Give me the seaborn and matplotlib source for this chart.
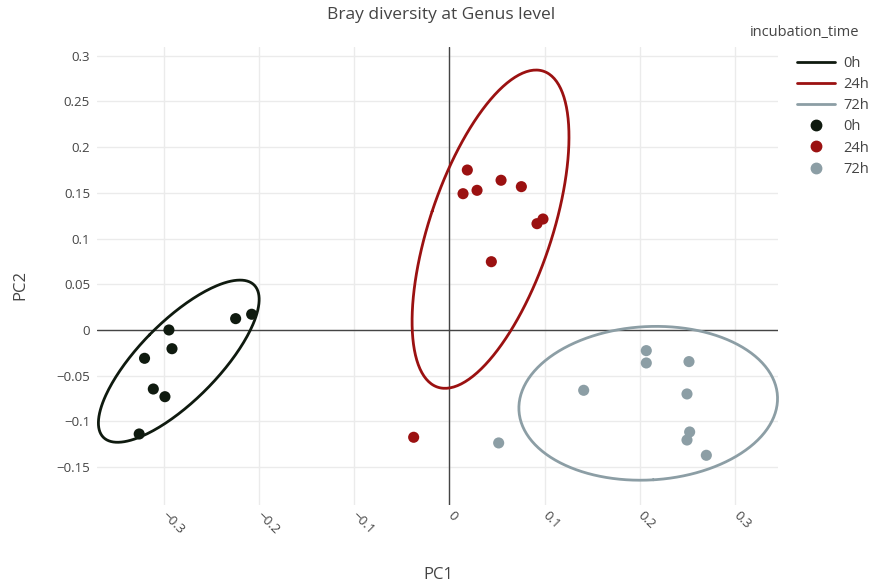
import numpy as np
import pandas as pd
import matplotlib
matplotlib.use("Agg")
import matplotlib.pyplot as plt
from matplotlib.lines import Line2D
import seaborn as sns

# ---- data ----
groups = ["0h", "24h", "72h"]
pc1_0h = [-0.2244, -0.2076, -0.2944, -0.2912, -0.3200, -0.3108, -0.2986, -0.3256]
pc2_0h = [0.0124, 0.0172, 0.0000, -0.0205, -0.0310, -0.0646, -0.0730, -0.1138]
pc1_24h = [0.0187, 0.0541, 0.0754, 0.0142, 0.0289, 0.0981, 0.0918, 0.0439, -0.0376]
pc2_24h = [0.1750, 0.1638, 0.1568, 0.1491, 0.1528, 0.1214, 0.1163, 0.0747, -0.1174]
pc1_72h = [0.2065, 0.2065, 0.2513, 0.1408, 0.2492, 0.2520, 0.2492, 0.2695, 0.0516]
pc2_72h = [-0.0226, -0.0361, -0.0346, -0.0660, -0.0700, -0.1116, -0.1204, -0.1371, -0.1236]
colors = ["#0f1a0f", "#9b1111", "#8c9ea5"]
x_ticks = [-0.3, -0.2, -0.1, 0, 0.1, 0.2, 0.3]
y_ticks = [-0.15, -0.1, -0.05, 0, 0.05, 0.1, 0.15, 0.2, 0.25, 0.3]

df = pd.DataFrame({
    "PC1": pc1_0h + pc1_24h + pc1_72h,
    "PC2": pc2_0h + pc2_24h + pc2_72h,
    "incubation_time": ["0h"] * len(pc1_0h) + ["24h"] * len(pc1_24h) + ["72h"] * len(pc1_72h),
})

# ellipse curves computed from each group's covariance
ell_rows = []
t = np.linspace(0, 2 * np.pi, 240)
for g in groups:
    sub = df[df.incubation_time == g][["PC1", "PC2"]].to_numpy()
    mu = sub.mean(axis=0)
    cov = np.cov(sub.T)
    vals, vecs = np.linalg.eigh(cov)
    r = 1.92
    circ = np.vstack([np.cos(t), np.sin(t)])
    pts = (vecs @ np.diag(np.sqrt(vals) * r) @ circ).T + mu
    for i, (px, py) in enumerate(pts):
        ell_rows.append({"PC1": px, "PC2": py, "incubation_time": g, "order": i})
ell = pd.DataFrame(ell_rows)

sns.set_theme(style="white")
plt.rcParams["font.family"] = ["Open Sans", "DejaVu Sans"]
TXT = "#444444"

fig = plt.figure(figsize=(8.79, 5.87), dpi=100)
ax = fig.add_axes([97 / 879, 1 - 505 / 587, 681 / 879, 458 / 587])

ax.set_xlim((97 - 449.5) / 953, (778 - 449.5) / 953)
ax.set_ylim(-0.1915, 0.3096)
ax.set_xticks(x_ticks)
ax.set_yticks(y_ticks)
ax.grid(True, color="#ebebeb", linewidth=1)
ax.set_axisbelow(True)
for s in ax.spines.values():
    s.set_visible(False)
ax.axhline(0, color="#444444", linewidth=1, zorder=1)
ax.axvline(0, color="#444444", linewidth=1, zorder=1)

pal = dict(zip(groups, colors))
sns.lineplot(data=ell, x="PC1", y="PC2", hue="incubation_time", units="incubation_time",
             estimator=None, sort=False, palette=pal, linewidth=2, ax=ax, legend=False, zorder=3)
for ln in ax.get_lines()[2:]:
    ln.set_clip_on(False)
sns.scatterplot(data=df, x="PC1", y="PC2", hue="incubation_time", palette=pal, s=64,
                edgecolor="none", ax=ax, legend=False, zorder=4)

ax.set_xlabel("")
ax.set_ylabel("")
ax.tick_params(axis="both", length=0, labelsize=9.5, colors=TXT)
ax.tick_params(axis="y", pad=5)
ax.tick_params(axis="x", pad=6)
ax.set_xticklabels([f"{v:g}".replace("-", "\u2212") for v in x_ticks])
ax.set_yticklabels([f"{v:g}".replace("-", "\u2212") for v in y_ticks])
for lab in ax.get_xticklabels():
    lab.set_rotation(-45)
    lab.set_ha("left")
    lab.set_va("center")
    lab.set_rotation_mode("anchor")

fig.text(441 / 879, 1 - 15 / 587, "Bray diversity at Genus level", ha="center", va="center",
         fontsize=12.5, color=TXT)
fig.text(438 / 879, 1 - 575 / 587, "PC1", ha="center", va="center", fontsize=12, color=TXT)
fig.text(20 / 879, 1 - 285 / 587, "PC2", ha="center", va="center", fontsize=12, color=TXT,
         rotation=90)
fig.text(750 / 879, 1 - 32 / 587, "incubation_time", ha="left", va="center", fontsize=10.5,
         color=TXT)

handles = [Line2D([0], [0], color=c, linewidth=2) for c in colors] + \
          [Line2D([0], [0], color=c, marker="o", linestyle="none", markersize=7.5) for c in colors]
labels = groups + groups
leg = fig.legend(handles, labels, loc="upper left", bbox_to_anchor=(797 / 879, 1 - 56 / 587),
                 frameon=False, fontsize=10.5, handlelength=2.6, labelspacing=0.42,
                 handletextpad=0.6, borderpad=0, borderaxespad=0)
for tx in leg.get_texts():
    tx.set_color(TXT)

fig.savefig("out.png", dpi=100)
